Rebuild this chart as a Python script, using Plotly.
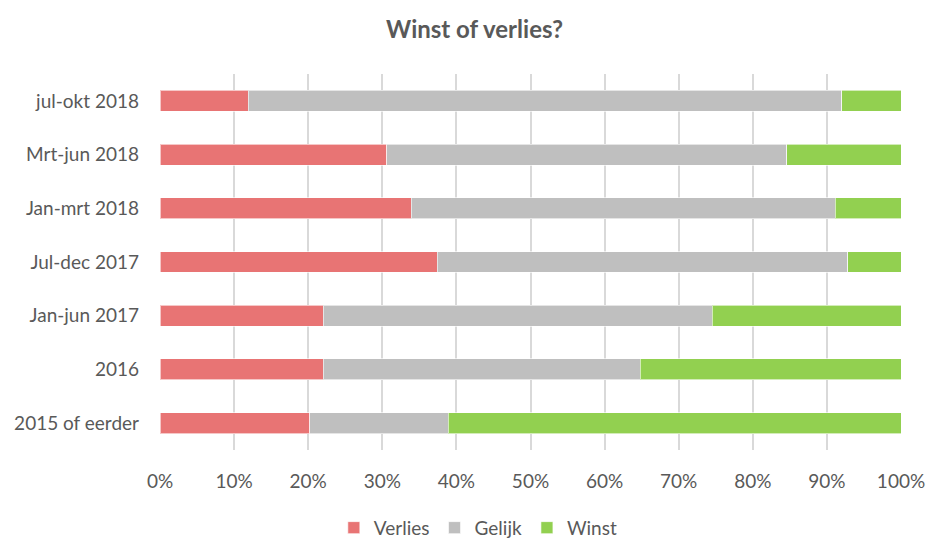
import plotly.graph_objects as go

categories = ["2015 of eerder", "2016", "Jan-jun 2017", "Jul-dec 2017",
              "Jan-mrt 2018", "Mrt-jun 2018", "jul-okt 2018"]
verlies = [20.2, 22.0, 22.0, 37.4, 33.9, 30.6, 11.9]
gelijk = [18.7, 42.8, 52.5, 55.4, 57.2, 54.0, 80.1]
winst = [61.1, 35.2, 25.5, 7.2, 8.9, 15.4, 8.0]
tick_vals = [0, 10, 20, 30, 40, 50, 60, 70, 80, 90, 100]
tick_text = [f"{v}%" for v in tick_vals]

series = [("Verlies", verlies, "#E87474"),
          ("Gelijk", gelijk, "#BFBFBF"),
          ("Winst", winst, "#92D050")]

fig = go.Figure()
for name, vals, col in series:
    fig.add_trace(go.Bar(
        y=categories, x=vals, name=name, orientation="h",
        marker=dict(color=col, line=dict(color="rgba(255,255,255,0.6)", width=1)),
    ))

FONT = "Lato, 'Open Sans', sans-serif"
fig.update_layout(
    barmode="stack",
    bargap=0.61,
    width=927, height=538,
    margin=dict(l=160, r=26, t=74, b=88),
    paper_bgcolor="white", plot_bgcolor="white",
    font=dict(family=FONT, color="#595959", size=19),
    title=dict(text="<b>Winst of verlies?</b>", x=0.512, xref="container", xanchor="center",
               y=0.945, yref="container", yanchor="middle",
               font=dict(size=24, color="#595959", family=FONT)),
    xaxis=dict(range=[0, 100], tickvals=tick_vals, ticktext=tick_text,
               showgrid=True, gridcolor="#D9D9D9", gridwidth=2,
               zeroline=False, showline=False, ticks="", automargin=False,
               ticklabelstandoff=18, fixedrange=True),
    yaxis=dict(showgrid=False, zeroline=False, showline=False, ticks="",
               automargin=False, ticklabelstandoff=20, fixedrange=True),
    legend=dict(orientation="h", x=0.516, xref="container", xanchor="center",
                y=0.019, yref="container", yanchor="middle",
                font=dict(size=19, color="#595959"),
                itemwidth=30, traceorder="normal"),
    showlegend=True,
)

fig.write_html("out.html")
